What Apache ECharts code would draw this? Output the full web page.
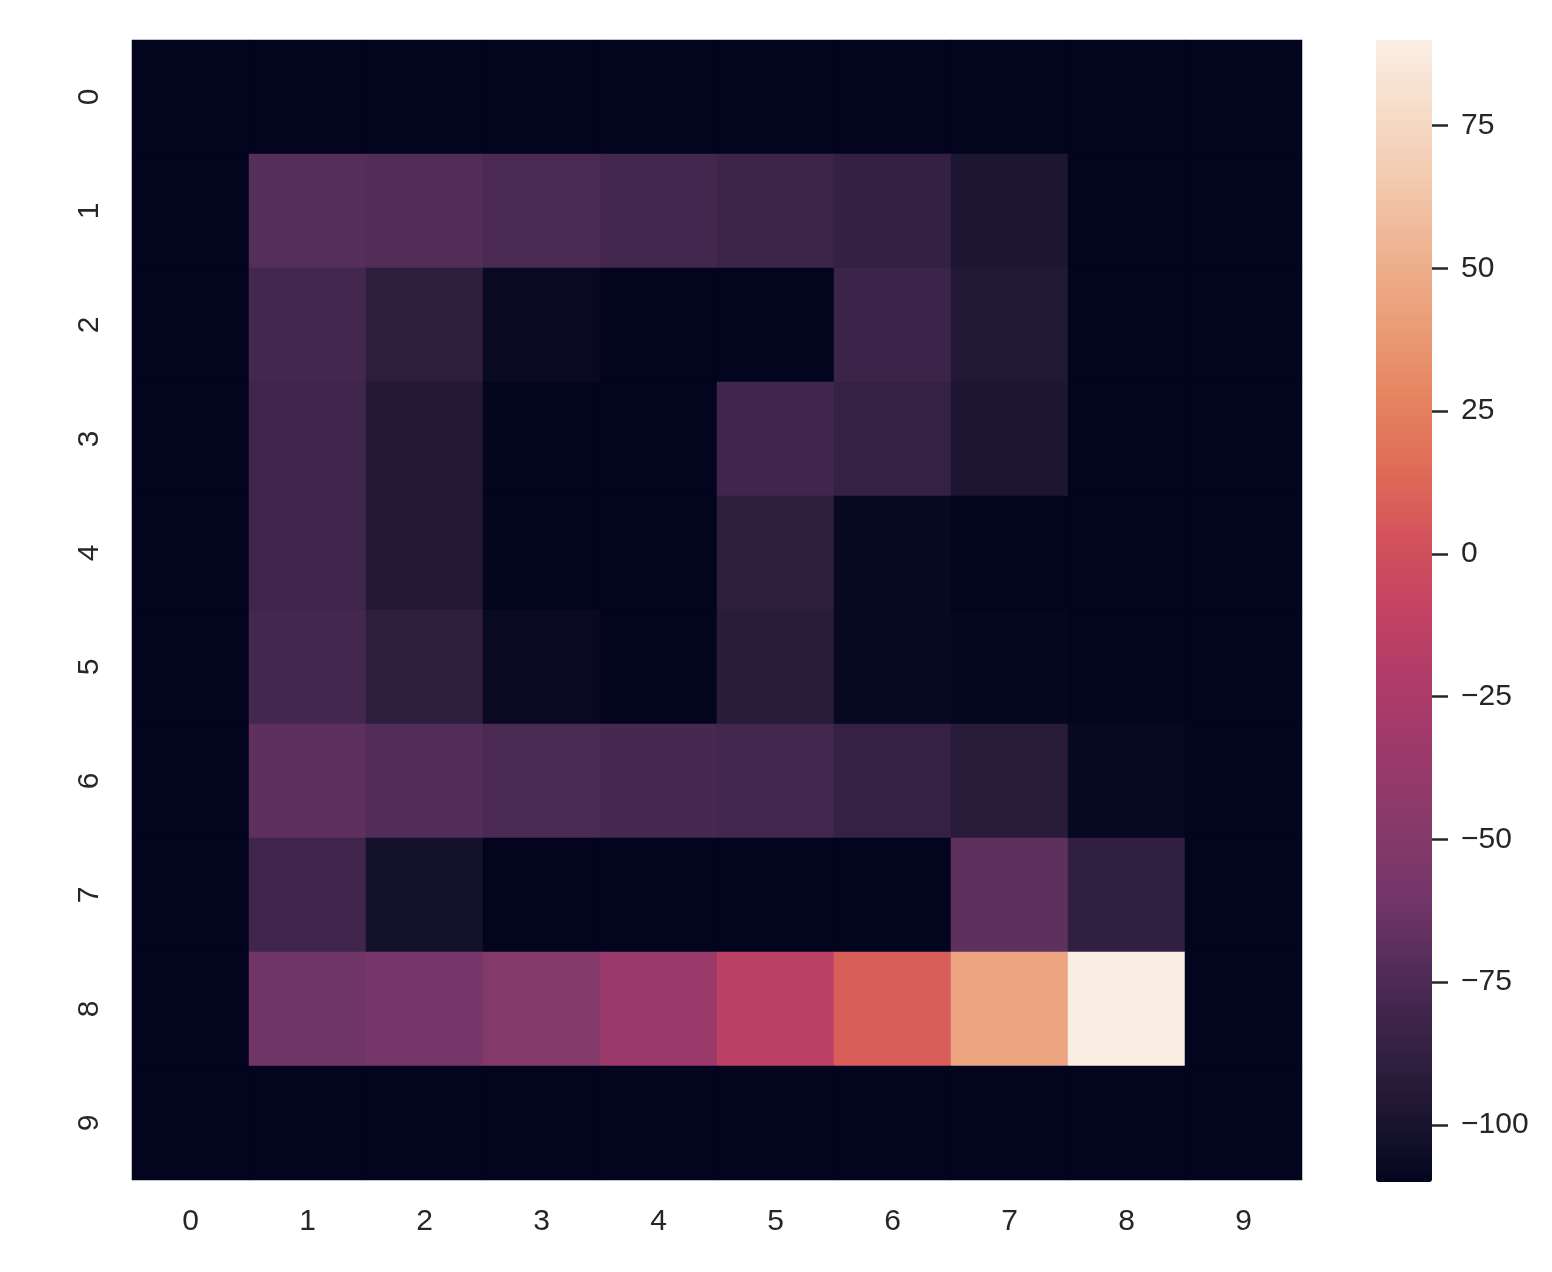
<!DOCTYPE html>
<html>
<head>
<meta charset="utf-8">
<script src="https://cdn.jsdelivr.net/npm/echarts@6/dist/echarts.min.js"></script>
<style>
  html, body { margin: 0; padding: 0; background: #fff; }
  #chart { width: 1552px; height: 1272px; }
</style>
</head>
<body>
<div id="chart"></div>
<script>
// tick labels
const xLabels = ['0', '1', '2', '3', '4', '5', '6', '7', '8', '9'];
const yLabels = ['0', '1', '2', '3', '4', '5', '6', '7', '8', '9'];
const cbarTicks = [-100, -75, -50, -25, 0, 25, 50, 75];

// cell values, one array per row (row 0 at top)
const row0 = [-110, -110, -110, -110, -110, -110, -110, -110, -110, -110];
const row1 = [-110, -71, -73, -76, -79, -82, -87, -98, -110, -110];
const row2 = [-110, -79, -90, -107, -110, -110, -83, -96, -110, -110];
const row3 = [-110, -81, -95, -110, -110, -81, -86, -98, -110, -110];
const row4 = [-110, -81, -95, -110, -110, -90, -108, -110, -110, -110];
const row5 = [-110, -79, -90, -107, -110, -92, -108, -109, -110, -110];
const row6 = [-110, -68, -72, -76, -78, -80, -86, -92, -108, -110];
const row7 = [-110, -81, -102, -110, -110, -110, -110, -68, -88, -110];
const row8 = [-110, -62, -58, -50, -37, -15, 8, 45, 90, -110];
const row9 = [-110, -110, -110, -110, -110, -110, -110, -110, -110, -110];
const rows = [row0, row1, row2, row3, row4, row5, row6, row7, row8, row9];

const vMin = -110;
const vMax = 90;

// colormap sampled off the colour bar (evenly spaced from min to max)
const cmap = [
  '#03051e', '#1e1733', '#372246', '#522d58', '#74366a', '#873a6a',
  '#9c3a6b', '#ae3c69', '#c44262', '#d3525b', '#e06c57', '#e6845f',
  '#ea9d76', '#eeb28f', '#f3c9ae', '#f6dcc8', '#faeee4'
];

const textColor = '#262626';
const fontFamily = 'Liberation Sans, Arial, sans-serif';

const heatData = [];
rows.forEach((r, yi) => {
  r.forEach((v, xi) => {
    heatData.push([xi, yi, v]);
  });
});

const chart = echarts.init(document.getElementById('chart'));
chart.setOption({
  backgroundColor: '#fff',
  animation: false,
  grid: [
    { left: 132, top: 40, width: 1170, height: 1140 },
    { left: 1431, top: 40, width: 1, height: 1142 }
  ],
  xAxis: [
    {
      type: 'category',
      gridIndex: 0,
      data: xLabels,
      position: 'bottom',
      axisLine: { show: false },
      axisTick: { show: false },
      splitLine: { show: false },
      axisLabel: {
        color: textColor,
        fontSize: 30,
        fontFamily: fontFamily,
        margin: 27
      }
    },
    {
      type: 'value',
      gridIndex: 1,
      show: false
    }
  ],
  yAxis: [
    {
      type: 'category',
      gridIndex: 0,
      data: yLabels,
      inverse: true,
      axisLine: { show: false },
      axisTick: { show: false },
      splitLine: { show: false },
      axisLabel: {
        color: textColor,
        fontSize: 30,
        fontFamily: fontFamily,
        rotate: 90,
        margin: 27
      }
    },
    {
      type: 'value',
      gridIndex: 1,
      position: 'right',
      min: vMin,
      max: vMax,
      axisLine: { show: false },
      splitLine: { show: false },
      axisTick: {
        show: true,
        length: 17,
        customValues: cbarTicks,
        lineStyle: { color: textColor, width: 2.5 }
      },
      axisLabel: {
        customValues: cbarTicks,
        color: textColor,
        fontSize: 30,
        fontFamily: fontFamily,
        margin: 29,
        formatter: v => (v < 0 ? '\u2212' + Math.abs(v) : String(v))
      }
    }
  ],
  visualMap: {
    type: 'continuous',
    min: vMin,
    max: vMax,
    calculable: false,
    realtime: false,
    seriesIndex: 0,
    orient: 'vertical',
    left: 1376,
    top: 40,
    itemWidth: 56,
    itemHeight: 1142,
    padding: 0,
    text: null,
    showLabel: false,
    inRange: { color: cmap }
  },
  series: [
    {
      type: 'heatmap',
      xAxisIndex: 0,
      yAxisIndex: 0,
      data: heatData,
      itemStyle: { borderWidth: 0 },
      emphasis: { disabled: true }
    }
  ]
});
</script>
</body>
</html>
